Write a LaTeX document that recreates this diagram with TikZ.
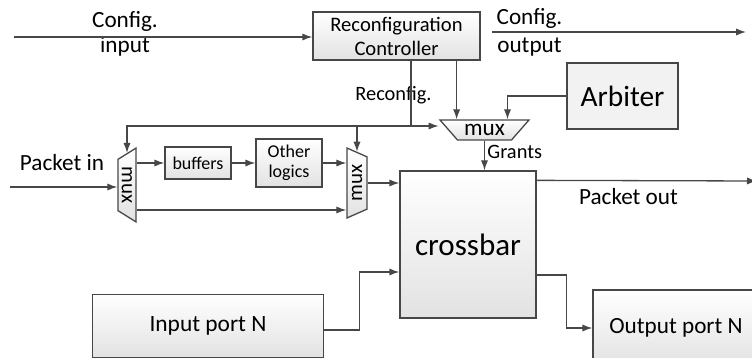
\documentclass[tikz,border=0pt]{standalone}
\usepackage{fontspec}
\setmainfont{Carlito}
\usetikzlibrary{shapes.geometric,arrows.meta,positioning}
\definecolor{linec}{HTML}{474747}
\definecolor{boxbot}{HTML}{E2E2E2}
\tikzset{block/.style={draw=linec,line width=0.65pt,top color=white,bottom color=boxbot,inner sep=0pt,align=center}}
\tikzset{mux/.style={block,trapezium,trapezium stretches=true,font=\fontsize{10.5}{12}\selectfont}}
\tikzset{wire/.style={draw=linec,line width=0.65pt}}
\tikzset{lbl/.style={inner sep=0pt,font=\fontsize{11.6}{13}\selectfont}}

\begin{document}
\begin{tikzpicture}[x=0.5pt,y=-0.5pt,>={Latex[length=5pt,width=3.6pt]}]
    \useasboundingbox (0,0) rectangle (752,358);

    % blocks
    \node[block,minimum width=83.5pt,minimum height=24pt,font=\fontsize{10.3}{12}\selectfont] (ctrl) at (396.5,36) {Reconfiguration\\Controller};
    \node[block,top color=white!95!black,bottom color=white!95!black,minimum width=55.5pt,minimum height=33pt,font=\fontsize{14.7}{16}\selectfont] (arb) at (622.5,96) {Arbiter};
    \node[block,minimum width=68pt,minimum height=73.5pt,font=\fontsize{15.5}{17}\selectfont] (xbar) at (468,244.5) {crossbar};
    \node[block,minimum width=33pt,minimum height=16pt,font=\fontsize{9}{10.5}\selectfont] (buf) at (198,163) {buffers};
    \node[block,minimum width=33pt,minimum height=24pt,font=\fontsize{9}{10}\selectfont] (oth) at (289,163) {Other\\logics};
    \node[block,minimum width=115.5pt,minimum height=31.5pt,font=\fontsize{11.7}{13}\selectfont] (inp) at (208,326) {Input port N};
    \node[block,minimum width=83pt,minimum height=38pt,font=\fontsize{11.6}{13}\selectfont] (outp) at (676,328) {Output port N};

    % muxes
    \node[mux,rotate=-90,minimum width=37pt,minimum height=9pt,trapezium left angle=128,trapezium right angle=128] (lmux) at (127,185) {mux};
    \node[mux,rotate=90,minimum width=35pt,minimum height=10pt,trapezium left angle=121,trapezium right angle=121] (rmux) at (357,183) {mux};
    \node[mux,minimum width=44.5pt,minimum height=10pt,trapezium left angle=139,trapezium right angle=139,font=\fontsize{11.6}{13}\selectfont] (tmux) at (484.5,130) {mux};

    % labels
    \node[lbl,anchor=base] (cin1) at (125,28) {Config.};
    \node[lbl,anchor=base] (cin2) at (125,53) {input};
    \node[lbl,anchor=base] (cout1) at (529.5,25) {Config.};
    \node[lbl,anchor=base] (cout2) at (529.5,53) {output};
    \node[lbl,anchor=base] (pinl) at (62,171) {Packet in};
    \node[lbl,anchor=base] (poutl) at (628.5,205) {Packet out};
    \node[lbl,anchor=base,font=\fontsize{10.2}{12}\selectfont] (rcl) at (393.5,101) {Reconfig.};
    \node[lbl,anchor=base west,font=\fontsize{10.2}{12}\selectfont] (grl) at (487,159) {Grants};

    % config path
    \coordinate (cin) at (14,37);
    \coordinate (cout) at (492,32);
    \coordinate (coutE) at (746,32);
    \path[wire,->] (cin) -- (cin -| ctrl.west);
    \path[wire,->] (cout) -- (coutE);

    % reconfig lines
    \coordinate (rcj) at (411,126);
    \coordinate (cm) at ([xshift=-12pt]ctrl.south east);
    \path[wire] (ctrl.south -| rcj) -- (rcj);
    \path[wire,->] (rcj) -| (lmux.west);
    \path[wire,->] (rcj) -| (rmux.east);
    \path[wire,->] (rcj) -- (rcj -| tmux.top left corner);
    \path[wire,->] (cm) -- (cm |- tmux.north);
    \path[wire,->] (arb.west) -| ([xshift=11.5pt]tmux.north);
    \path[wire,->] (tmux.south) -- (tmux.south |- xbar.north);

    % packet path
    \coordinate (pin) at (10,187);
    \coordinate (byp) at ([yshift=-12.5pt]lmux.north);
    \path[wire,->] (pin) -- (pin -| lmux.south);
    \path[wire,->] (buf.west -| lmux.north) -- (buf.west);
    \path[wire,->] (buf.east) -- (buf.east -| oth.west);
    \path[wire,->] (oth.east) -- (oth.east -| rmux.north);
    \path[wire,->] (byp) -- (byp -| rmux.north);
    \path[wire,->] (rmux.south) -- (rmux.south -| xbar.west);

    % crossbar ports
    \coordinate (pout) at ([yshift=-5pt]xbar.north east);
    \coordinate (poutE) at (757,181);
    \coordinate (xo) at ([yshift=-15.25pt]xbar.east);
    \coordinate (xi) at ([yshift=-13.75pt]xbar.west);
    \path[wire,->] (pout) -- (poutE);
    \path[wire,->] (xo) -- ++(15pt,0) |- (outp.west);
    \path[wire,->] ([yshift=-2pt]inp.east) -- ++(17.5pt,0) |- (xi);
\end{tikzpicture}
\end{document}
